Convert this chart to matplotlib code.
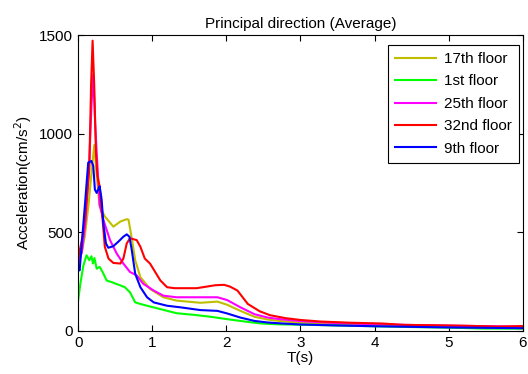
import matplotlib
matplotlib.use("Agg")
import matplotlib.pyplot as plt

plt.rcParams['font.family'] = ['Liberation Sans', 'DejaVu Sans']

# period T (s) and acceleration (cm/s^2) for each floor
t_17 = [0, 0.05, 0.09, 0.14, 0.18, 0.217, 0.25, 0.29, 0.36, 0.475, 0.57, 0.656, 0.68,
        0.72, 0.77, 0.84, 0.97, 1.15, 1.33, 1.65, 1.88, 2.01, 2.19, 2.38, 2.56, 2.72,
        3.0, 3.5, 4.0, 5.0, 6.0]
a_17 = [340, 400, 480, 640, 800, 943, 786, 632, 581, 529, 555, 567, 564,
        478, 359, 273, 213, 171, 154, 143, 149, 133, 102, 72, 58, 51,
        42, 35, 30, 25, 20]

t_1 = [0, 0.03, 0.07, 0.113, 0.15, 0.18, 0.2, 0.22, 0.25, 0.29, 0.33, 0.385, 0.45,
       0.57, 0.63, 0.70, 0.77, 0.84, 0.93, 1.11, 1.33, 1.56, 1.79, 2.01, 2.29, 2.47,
       2.69, 3.0, 3.5, 4.0, 4.5, 5.0, 5.5, 6.0]
a_1 = [154, 240, 330, 384, 359, 379, 342, 370, 316, 325, 299, 256, 248,
       231, 222, 196, 145, 137, 128, 111, 90, 82, 72, 60, 46, 38,
       34, 32, 28, 24, 20, 17, 12, 12]

t_25 = [0, 0.05, 0.1, 0.15, 0.18, 0.204, 0.23, 0.25, 0.29, 0.34, 0.43, 0.52, 0.61,
        0.70, 0.79, 0.88, 1.02, 1.15, 1.33, 1.88, 2.01, 2.19, 2.38, 2.56, 2.72, 3.0,
        3.5, 4.0, 5.0, 6.0]
a_25 = [342, 400, 560, 850, 1150, 1300, 1050, 905, 640, 564, 461, 393, 342,
        299, 282, 239, 205, 179, 171, 171, 157, 120, 85, 68, 60, 50,
        40, 34, 27, 22]

t_32 = [0, 0.06, 0.1, 0.15, 0.175, 0.195, 0.217, 0.24, 0.26, 0.29, 0.33, 0.36, 0.41,
        0.475, 0.57, 0.61, 0.656, 0.7, 0.79, 0.84, 0.9, 0.97, 1.04, 1.11, 1.2, 1.3,
        1.6, 1.75, 1.85, 1.97, 2.05, 2.15, 2.29, 2.45, 2.59, 2.8, 3.0, 3.27, 3.67,
        4.1, 4.4, 5.0, 5.3, 5.66, 6.0]
a_32 = [367, 480, 600, 820, 1250, 1472, 1247, 905, 786, 734, 564, 427, 367,
        345, 342, 367, 444, 470, 461, 427, 367, 342, 299, 256, 222, 217,
        217, 226, 232, 234, 225, 205, 137, 100, 80, 65, 56, 48, 42,
        38, 31, 28, 26, 22, 25]

t_9 = [0, 0.02, 0.09, 0.136, 0.18, 0.204, 0.226, 0.25, 0.27, 0.29, 0.317, 0.34, 0.375,
       0.407, 0.475, 0.543, 0.61, 0.656, 0.692, 0.724, 0.77, 0.84, 0.93, 1.02, 1.2,
       1.38, 1.65, 1.88, 2.01, 2.19, 2.38, 2.56, 2.72, 3.0, 3.5, 4.0, 5.0, 6.0]
a_9 = [316, 307, 632, 854, 862, 837, 717, 700, 717, 734, 666, 547, 444,
       422, 430, 453, 478, 490, 478, 410, 290, 222, 171, 145, 128,
       120, 106, 102, 89, 68, 51, 43, 39, 33, 28, 24, 18, 14]

fig = plt.figure(figsize=(5.28, 3.74), dpi=100)
ax = fig.add_axes([0.148, 0.115, 0.842, 0.791])

ax.plot(t_17, a_17, color='#bfbf00', lw=1.5, label='17th floor')
ax.plot(t_1, a_1, color='#00ff00', lw=1.5, label='1st floor')
ax.plot(t_25, a_25, color='#ff00ff', lw=1.5, label='25th floor')
ax.plot(t_32, a_32, color='#ff0000', lw=1.5, label='32nd floor')
ax.plot(t_9, a_9, color='#0000ff', lw=1.5, label='9th floor')

ax.set_xlim(0, 6)
ax.set_ylim(0, 1500)
ax.set_xticks(range(7))
ax.set_yticks([0, 500, 1000, 1500])
ax.tick_params(direction='in', top=True, right=True, labelsize=11, length=4)
ax.set_xlabel('T(s)', fontsize=11, labelpad=1)
ax.set_ylabel('Acceleration(cm/s$^2$)', fontsize=11, labelpad=4)
ax.set_title('Principal direction (Average)', fontsize=11, pad=5)

leg = ax.legend(loc='upper right', bbox_to_anchor=(0.991, 0.966), borderaxespad=0,
                fontsize=11, fancybox=False, framealpha=1, edgecolor='black',
                handlelength=2.7, handletextpad=0.5, labelspacing=0.55,
                borderpad=0.45)
leg.get_frame().set_linewidth(0.8)

fig.savefig('out.png', dpi=100)
